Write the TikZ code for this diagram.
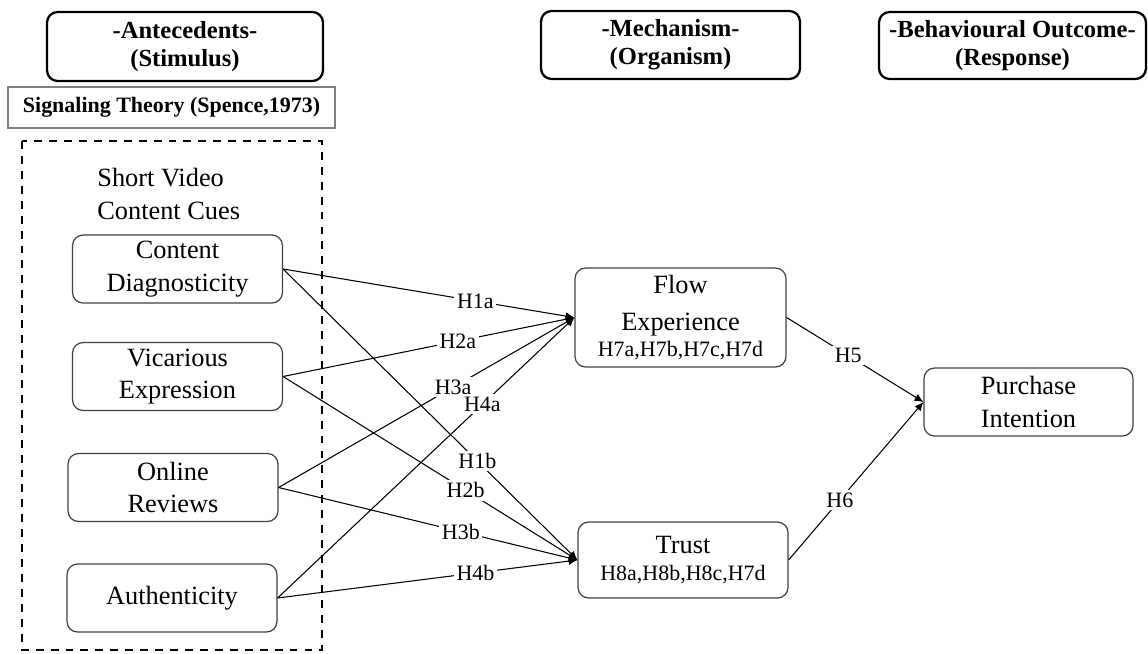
\documentclass[tikz,border=0pt]{standalone}
\usepackage{fontspec}
\setmainfont{Liberation Serif}
\usetikzlibrary{positioning,arrows.meta}

\newcommand{\hypfont}{\fontsize{12.5}{14}\selectfont}

\tikzset{
  hdr/.style={draw, line width=1.3pt, rounded corners=6pt, align=center,
    inner sep=0pt, font=\fontsize{14}{16}\selectfont\bfseries},
  cue/.style={draw=black!75, line width=0.7pt, rounded corners=6pt, align=center,
    inner sep=0pt, minimum width=4.2cm, minimum height=1.36cm,
    font=\fontsize{15}{18.5}\selectfont},
  hyp/.style={fill=white, inner sep=1.5pt, font=\hypfont},
  link/.style={-{Latex[length=5pt,width=4.5pt]}, line width=0.6pt},
}

\begin{document}
\begin{tikzpicture}[x=0.02cm, y=-0.02cm]
    \useasboundingbox (0,0) rectangle (1148,653);

    % stage headers
    \node[hdr, minimum width=5.52cm, minimum height=1.38cm] (ante) at (185,46.5) {-Antecedents-\\(Stimulus)};
    \node[hdr, minimum width=5.18cm, minimum height=1.36cm] (mech) at (670.5,45) {-Mechanism-\\(Organism)};
    \node[hdr, minimum width=5.34cm, minimum height=1.34cm] (resp) at (1012.5,45.5) {-Behavioural Outcome-\\(Response)};

    \node[draw=black!50, line width=0.8pt, inner sep=0pt, minimum width=6.54cm, minimum height=0.82cm,
      font=\hypfont\bfseries] (theory) at (171.5,107.5) {Signaling Theory (Spence,1973)};

    % stimulus block
    \draw[dash pattern=on 4.5pt off 4pt, line width=1.1pt] (22,141) rectangle (322,650);
    \node[align=left, anchor=west, inner sep=0pt, font=\fontsize{15}{18.5}\selectfont] (cues) at (97,194) {Short Video\\Content Cues};

    \node[cue] (diag) at (177.5,269) {Content\\Diagnosticity};
    \node[cue] (vica) at (177.5,376.5) {Vicarious\\Expression};
    \node[cue] (revw) at (173,487.5) {Online\\Reviews};
    \node[cue] (auth) at (172,598) {Authenticity};

    % organism and response
    \node[cue, minimum width=4.22cm, minimum height=1.98cm] (flow) at (680.5,317.5) {Flow\\[2.5pt]Experience\\[-4pt]{\hypfont H7a,H7b,H7c,H7d}};
    \node[cue, minimum height=1.52cm] (trust) at (683,560) {Trust\\[-3.2pt]{\hypfont H8a,H8b,H8c,H7d}};
    \node[cue, minimum width=4.18cm] (buy) at (1028.5,402) {Purchase\\Intention};

    % hypotheses
    \draw[link] (diag.east) -- node[hyp, pos=0.66] {H1a} (flow.west);
    \draw[link] (vica.east) -- node[hyp, pos=0.6] {H2a} (flow.west);
    \draw[link] (revw.east) -- node[hyp, pos=0.59] {H3a} (flow.west);
    \draw[link] (auth.east) -- node[hyp, pos=0.69] {H4a} (flow.west);
    \draw[link] (diag.east) -- node[hyp, pos=0.66] {H1b} (trust.west);
    \draw[link] (vica.east) -- node[hyp, pos=0.62] {H2b} (trust.west);
    \draw[link] (revw.east) -- node[hyp, pos=0.61] {H3b} (trust.west);
    \draw[link] (auth.east) -- node[hyp, pos=0.66] {H4b} (trust.west);
    \draw[link] (flow.east) -- node[hyp, pos=0.45] {H5} (buy.west);
    \draw[link] (trust.east) -- node[hyp, pos=0.38] {H6} (buy.west);
\end{tikzpicture}
\end{document}
